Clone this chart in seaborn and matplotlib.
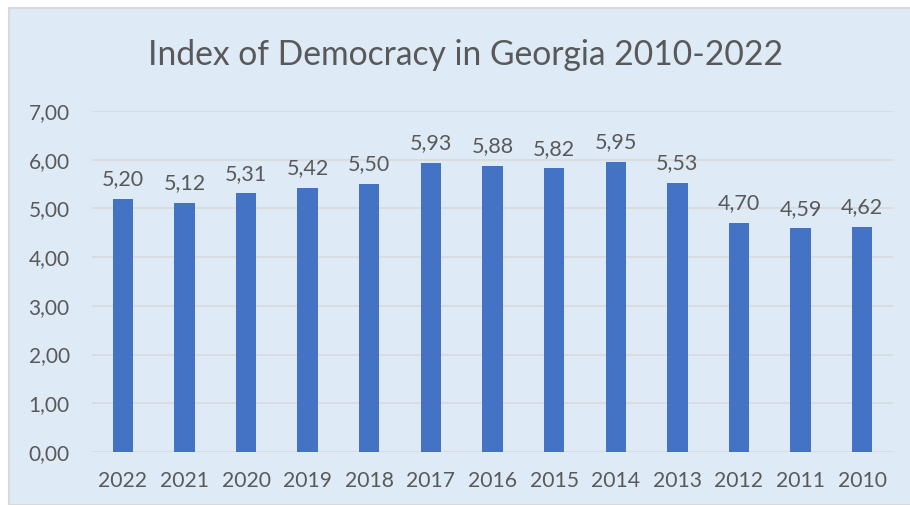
import matplotlib
matplotlib.use("Agg")
import matplotlib.pyplot as plt
import seaborn as sns
import pandas as pd
from matplotlib.patches import Rectangle

years = ["2022", "2021", "2020", "2019", "2018", "2017", "2016", "2015", "2014", "2013", "2012", "2011", "2010"]
values = [5.20, 5.12, 5.31, 5.42, 5.50, 5.93, 5.88, 5.82, 5.95, 5.53, 4.70, 4.59, 4.62]
yticks = [0, 1, 2, 3, 4, 5, 6, 7]

sns.set_style("white")
plt.rcParams['font.family'] = ['Lato', 'DejaVu Sans']
txt = '#595959'
bg = '#DEEBF7'

fig = plt.figure(figsize=(9.1, 5.05), dpi=100)
fig.patch.set_facecolor('white')
fig.patches.append(Rectangle((9/910, 0), 1 - 9/910 + 0.01, 1 - 8/505, transform=fig.transFigure,
                             facecolor=bg, edgecolor='#D9D9D9', linewidth=1.5, zorder=-5))

ax = fig.add_axes([92/910, 1 - 452/505, (893 - 92)/910, (452 - 111)/505])
ax.set_zorder(2)
ax.set_facecolor('none')
df = pd.DataFrame({"year": years, "value": values})
sns.barplot(data=df, x="year", y="value", order=years, color='#4472C4', width=0.33,
            saturation=1, linewidth=0, ax=ax, zorder=3)
ax.bar_label(ax.containers[0], labels=[f"{v:.2f}".replace('.', ',') for v in values],
             padding=7, fontsize=15.5, color=txt)
ax.set_ylim(0, 7)
ax.set_xlim(-0.5, len(years) - 0.5)
ax.set_yticks(yticks)
ax.set_yticklabels([f"{t:.2f}".replace('.', ',') for t in yticks])
ax.yaxis.grid(True, color='#D9D9D9', linewidth=1.2, zorder=0)
ax.set_axisbelow(True)
for s in ax.spines.values():
    s.set_visible(False)
ax.tick_params(axis='both', length=0, labelcolor=txt)
ax.tick_params(axis='x', pad=14, labelsize=15.2)
ax.tick_params(axis='y', pad=16, labelsize=15)
ax.set_xlabel("")
ax.set_ylabel("")
fig.text(466/910, 1 - 55/505, "Index of Democracy in Georgia 2010-2022", ha='center', va='center',
         fontsize=24.2, color=txt, zorder=3)
fig.savefig("out.png", dpi=100)
